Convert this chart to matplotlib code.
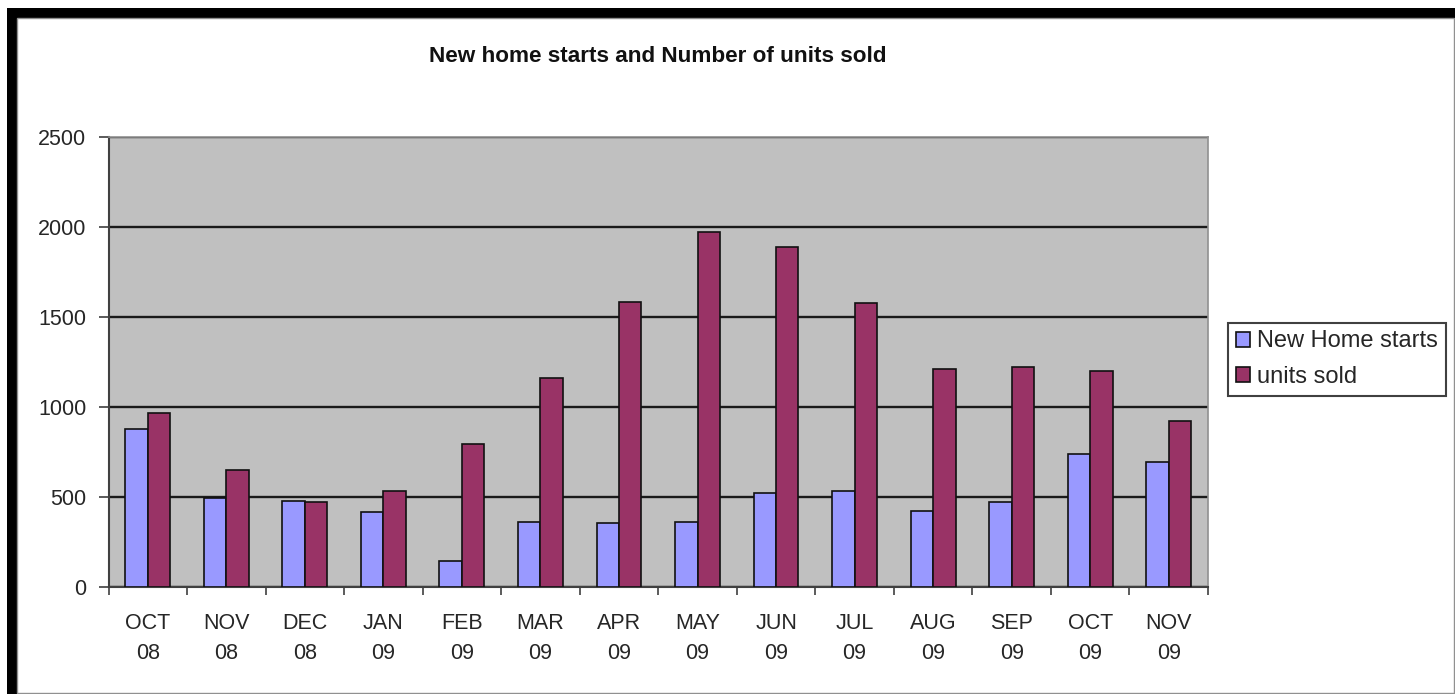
import matplotlib
matplotlib.use('Agg')
import matplotlib.pyplot as plt
import numpy as np
from matplotlib.patches import Rectangle

months = ['OCT\n08', 'NOV\n08', 'DEC\n08', 'JAN\n09', 'FEB\n09', 'MAR\n09', 'APR\n09',
          'MAY\n09', 'JUN\n09', 'JUL\n09', 'AUG\n09', 'SEP\n09', 'OCT\n09', 'NOV\n09']
starts = [878, 495, 474, 413, 141, 357, 356, 361, 522, 533, 422, 472, 736, 691]
sold = [965, 650, 468, 530, 793, 1160, 1583, 1969, 1889, 1574, 1208, 1219, 1198, 922]
yticks = [0, 500, 1000, 1500, 2000, 2500]

plt.rcParams['font.family'] = ['Liberation Sans', 'DejaVu Sans']

W, H = 1455, 694
fig = plt.figure(figsize=(W / 100, H / 100), dpi=100)
fig.patch.set_facecolor('white')


def fx(x):
    return x / W


def fy(y):
    return 1 - y / H


# outer frame
fig.patches.append(Rectangle((fx(7), 0), 1 - fx(7), fy(8), transform=fig.transFigure,
                             facecolor='black', edgecolor='none', zorder=-10))
fig.patches.append(Rectangle((fx(17), fy(692.5)), fx(1453.5) - fx(17), fy(18) - fy(692.5),
                             transform=fig.transFigure, facecolor='white',
                             edgecolor='#909090', lw=1, zorder=-9))

ax = fig.add_axes([fx(108.5), fy(586.7), fx(1208) - fx(108.5), fy(136.7) - fy(586.7)])
ax.set_facecolor('#C0C0C0')

x = np.arange(len(months))
w = 0.2857
ax.bar(x - w / 2, starts, w, color='#9999FF', edgecolor='#111111', lw=1.2,
       label='New Home starts', zorder=3)
ax.bar(x + w / 2, sold, w, color='#993366', edgecolor='#111111', lw=1.2,
       label='units sold', zorder=3)

ax.set_xlim(-0.5, len(months) - 0.5)
ax.set_ylim(0, 2500)
ax.set_yticks(yticks)
ax.set_yticklabels([str(v) for v in yticks])
ax.set_axisbelow(True)
ax.grid(axis='y', color='#1a1a1a', lw=1.7, zorder=1)

ax.set_xticks(np.arange(-0.5, len(months), 1))
ax.set_xticklabels([])
ax.set_xticks(x, minor=True)
ax.set_xticklabels(months, minor=True, linespacing=1.58)
ax.tick_params(axis='x', which='minor', length=0, pad=19, labelsize=15.5, labelcolor='#262626')
ax.tick_params(axis='x', which='major', direction='out', length=6, width=1.2, color='#404040')
ax.tick_params(axis='y', direction='out', length=7, width=1.2, color='#404040',
               pad=9, labelsize=15.5, labelcolor='#262626')

for s in ['top', 'right']:
    ax.spines[s].set_color('#909090')
    ax.spines[s].set_linewidth(1.2)
for s in ['left', 'bottom']:
    ax.spines[s].set_color('#404040')
    ax.spines[s].set_linewidth(1.5)

fig.text(fx(658), fy(57), 'New home starts and Number of units sold', ha='center', va='center',
         fontsize=16.2, fontweight='bold', color='#111111')

leg = ax.legend(loc='upper left', bbox_to_anchor=(fx(1228), fy(322.7)),
                bbox_transform=fig.transFigure, borderaxespad=0, fancybox=False,
                edgecolor='#404040', framealpha=1, fontsize=17, handlelength=0.6,
                handleheight=0.6, handletextpad=0.3, borderpad=0.33, labelspacing=0.56)
leg.get_frame().set_linewidth(1.5)
for t in leg.get_texts():
    t.set_color('#262626')

fig.savefig('out.png', dpi=100)
